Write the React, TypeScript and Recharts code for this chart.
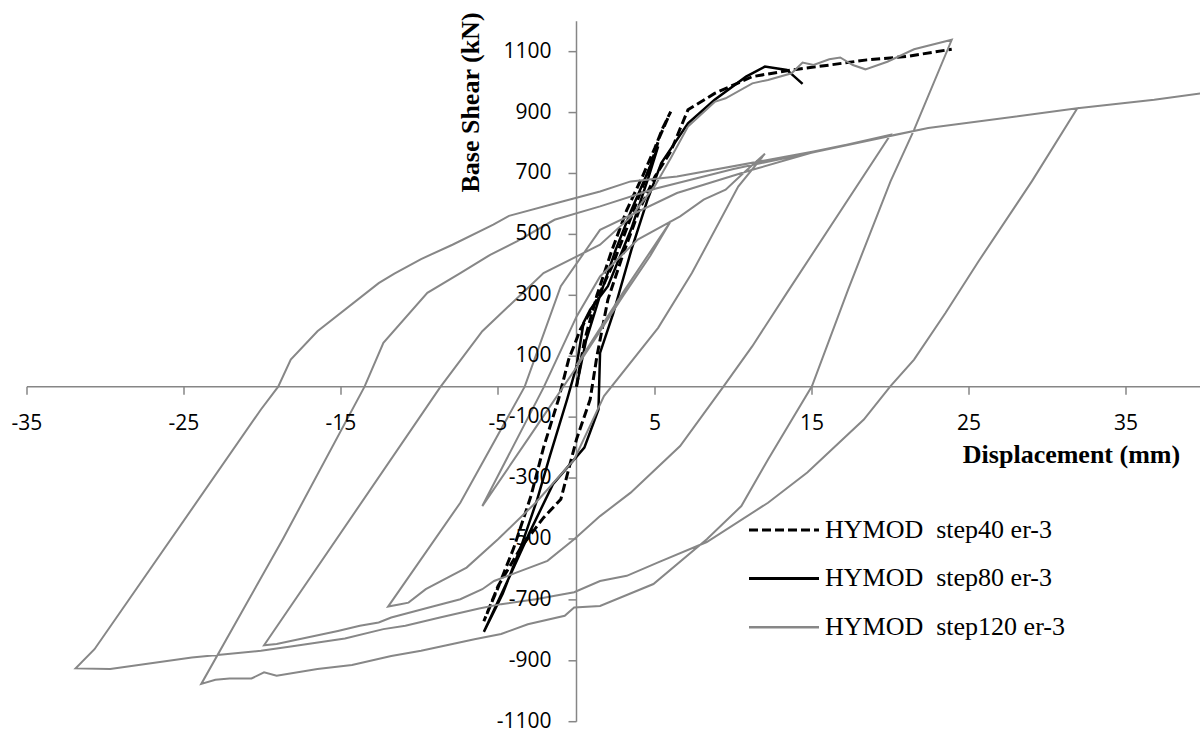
import React from 'react';
import { ComposedChart, Line, XAxis, YAxis, ReferenceLine, ReferenceDot } from 'recharts';

type Pt = [number, number];

// Displacement (mm) / base shear (kN) pairs, one array per branch of each run.
const step40Load: Pt[] = [[0, 0], [0.5, 150], [1.3, 300], [2.2, 440], [3.2, 580], [4.2, 690], [5.0, 785], [5.5, 850], [6.0, 903]];
const step40Unload: Pt[] = [[5.3, 821], [4.7, 723], [3.5, 560], [2.3, 400], [1.3, 286], [0.24, 187], [-0.5, 89], [-1.15, -42], [-2.1, -200], [-2.9, -359], [-4.0, -530], [-5.0, -660], [-5.9, -770]];
const step40Reload: Pt[] = [[-5.0, -655], [-3.5, -525], [-2.1, -430], [-1.0, -370], [0, -173], [0.87, -42], [1.3, 100], [2.0, 286], [3.0, 440], [4.0, 580], [5.0, 690], [6.0, 772], [7.1, 909], [8.8, 963], [11.2, 1018], [13.7, 1040], [16.1, 1056], [18.5, 1073], [21.0, 1084], [23.9, 1108]];

const step80Load: Pt[] = [[0, 0], [0.6, 150], [1.5, 300], [2.5, 450], [3.5, 580], [4.5, 700], [5.2, 789]];
const step80Unload: Pt[] = [[4.6, 690], [3.5, 520], [2.0, 330], [0.87, 253], [0.45, 210], [0, 67], [-0.6, -42], [-1.7, -228], [-2.5, -370], [-3.5, -520], [-4.7, -680], [-5.9, -805]];
const step80Reload: Pt[] = [[-4.5, -650], [-3.0, -480], [-1.5, -320], [0.5, -200], [1.4, -75], [1.5, 111], [2.35, 242], [3.5, 450], [4.5, 610], [5.4, 734], [7.1, 865], [8.8, 942], [10.8, 1018], [12.0, 1051], [13.4, 1040], [14.4, 994]];

const step120Cycle6: Pt[] = [[0, 70], [3, 312], [6, 543], [4.7, 430], [3, 300], [1.5, 182], [0, 64], [-3, -165], [-6, -392]];
const step120Reload12: Pt[] = [[-6, -392], [-2.1, -3], [0, 230], [1.5, 362], [3.9, 483], [6.6, 559], [8.1, 614], [9.5, 647], [10.5, 695], [12, 765]];
const step120Unload12: Pt[] = [[10.3, 657], [7.35, 373], [5.2, 193], [1.75, -31], [-0.15, -240], [-2.6, -381], [-5.0, -501], [-7.0, -594], [-9.6, -665], [-10.7, -709], [-11.3, -715], [-12, -722]];
const step120Reload20: Pt[] = [[-7.4, -381], [-3.3, 0], [-1.0, 330], [1.5, 515], [6.4, 636], [11.2, 712], [14.9, 767], [20, 827]];
const step120Unload20: Pt[] = [[13.4, 308], [11.2, 133], [9.3, -4], [6.6, -195], [3.45, -348], [1.5, -425], [-0.15, -501], [-1.85, -572], [-5.25, -638], [-6.0, -665], [-7.4, -698], [-9.4, -725], [-11.8, -758], [-12.6, -774], [-13.8, -785], [-15.2, -802], [-19.1, -845], [-19.9, -849]];
const step120Reload24: Pt[] = [[-8.7, -3], [-6.0, 182], [-2.1, 373], [1.5, 466], [3.5, 560], [5.0, 660], [6.0, 750], [7.1, 854], [8.8, 935], [9.5, 947], [11.2, 996], [12.2, 1007], [13.7, 1029], [14.4, 1064], [15.1, 1056], [16.1, 1075], [16.8, 1081], [17.6, 1056], [18.4, 1042], [19.8, 1067], [21.5, 1108], [23.9, 1139]];
const step120Unload24: Pt[] = [[21.5, 843], [20.0, 674], [17.3, 319], [15.0, 2], [12.2, -239], [10.5, -392], [8.3, -501], [4.9, -648], [1.5, -720], [-0.15, -725], [-0.75, -752], [-3.1, -780], [-4.8, -812], [-6.5, -829], [-7.9, -845], [-9.9, -867], [-11.8, -884], [-14.3, -914], [-16.5, -927], [-19.1, -949], [-19.9, -938], [-20.7, -958], [-22.1, -958], [-23.0, -962], [-23.9, -976]];
const step120Reload32: Pt[] = [[-13.5, 0], [-12.3, 144], [-9.5, 308], [-7.4, 373], [-5.5, 433], [-3.8, 477], [-1.4, 548], [1.5, 592], [5.0, 650], [10.0, 715], [15.1, 770], [22.4, 849], [31.9, 914]];
const step120Unload32: Pt[] = [[29.0, 674], [25.6, 411], [23.5, 242], [21.5, 89], [20.0, 2], [18.3, -108], [14.7, -282], [12.2, -381], [8.3, -510], [5.2, -577], [3.2, -621], [1.5, -638], [-0.15, -675], [-2.6, -698], [-4.8, -714], [-6.2, -728], [-8.7, -758], [-10.9, -785], [-12.3, -796], [-14.75, -827], [-18.2, -853], [-20.1, -867], [-24.5, -889], [-29.7, -927], [-31.9, -925]];
const step120Reload40: Pt[] = [[-30.7, -862], [-20.1, -75], [-19.0, 0], [-18.2, 89], [-16.5, 182], [-12.6, 340], [-11.6, 371], [-9.9, 419], [-7.9, 466], [-5.3, 532], [-4.3, 561], [-0.9, 608], [1.5, 641], [3.45, 674], [6.4, 690], [15.1, 772], [22.4, 849], [31.9, 914], [36.8, 942], [40, 965]];

const xTicks = [-35, -25, -15, -5, 5, 15, 25, 35];
const yTicks = [-1100, -900, -700, -500, -300, -100, 100, 300, 500, 700, 900, 1100];

const seriesNames = ['HYMOD  step40 er-3', 'HYMOD  step80 er-3', 'HYMOD  step120 er-3'];

type Row = { x: number; y: number | null };
const join = (...branches: Pt[][]): Row[] =>
  branches.flat().map(([x, y]) => ({ x, y }));

const step40 = join(step40Load, step40Unload, step40Reload);
const step80 = join(step80Load, step80Unload, step80Reload);
const step120 = join(
  step120Cycle6, step120Reload12, step120Unload12,
  [[-12, -722]], step120Reload20, step120Unload20,
  [[-19.9, -849]], step120Reload24, step120Unload24,
  [[-23.9, -976], [-18.7, -500]], step120Reload32, step120Unload32,
  step120Reload40
);

const AXIS = '#868686';
const GRAY = '#878787';
const tickFont = '"Open Sans", sans-serif';
const serif = '"Liberation Serif", "Times New Roman", serif';

const XTick = (props: any) => {
  const { cx, cy, label } = props;
  return (
    <g>
      <line x1={cx} y1={cy} x2={cx} y2={cy + 8} stroke={AXIS} strokeWidth={1.5} />
      <text x={cx} y={cy + 43} textAnchor="middle" fontFamily={tickFont} fontSize={21} fill="#000">{label}</text>
    </g>
  );
};

const YTick = (props: any) => {
  const { cx, cy, label } = props;
  return (
    <g>
      <line x1={cx - 8} y1={cy} x2={cx} y2={cy} stroke={AXIS} strokeWidth={1.5} />
      <text x={cx - 25} y={cy + 6} textAnchor="end" fontFamily={tickFont} fontSize={21} fill="#000">{label}</text>
    </g>
  );
};

export default function App() {
  return (
    <div style={{ position: 'absolute', left: 0, top: 0, width: 1200, height: 734, overflow: 'hidden', background: '#fff' }}>
      <ComposedChart width={1215} height={734} margin={{ top: 21.2, right: 10.5, bottom: 12.3, left: 27 }}>
        <XAxis type="number" dataKey="x" domain={[-35, 40]} hide allowDataOverflow />
        <YAxis type="number" dataKey="y" domain={[-1100, 1200]} hide allowDataOverflow />
        <ReferenceLine y={0} stroke={AXIS} strokeWidth={1.5} />
        <ReferenceLine x={0} stroke={AXIS} strokeWidth={1.5} />
        {xTicks.map((t) => (
          <ReferenceDot key={'x' + t} x={t} y={0} r={0} shape={(p: any) => <XTick {...p} label={t} />} />
        ))}
        {yTicks.map((t) => (
          <ReferenceDot key={'y' + t} x={0} y={t} r={0} shape={(p: any) => <YTick {...p} label={t} />} />
        ))}
        <Line data={step40} dataKey="y" type="linear" stroke="#000" strokeWidth={3} strokeDasharray="9 4" dot={false} isAnimationActive={false} connectNulls={false} />
        <Line data={step80} dataKey="y" type="linear" stroke="#000" strokeWidth={2.5} dot={false} isAnimationActive={false} connectNulls={false} />
        <Line data={step120} dataKey="y" type="linear" stroke={GRAY} strokeWidth={2} dot={false} isAnimationActive={false} connectNulls={false} />
      </ComposedChart>
      <svg width={1200} height={734} style={{ position: 'absolute', left: 0, top: 0, pointerEvents: 'none' }}>
        <text x={1071.5} y={463} textAnchor="middle" fontFamily={serif} fontWeight="bold" fontSize={26}>Displacement (mm)</text>
        <text transform="translate(479,102.5) rotate(-90)" textAnchor="middle" fontFamily={serif} fontWeight="bold" fontSize={26}>Base Shear (kN)</text>
        {seriesNames.map((name, i) => {
          const cy = 530 + i * 48.6;
          return (
            <g key={name}>
              <line x1={749} y1={cy} x2={819} y2={cy}
                stroke={i === 2 ? GRAY : '#000'} strokeWidth={i === 2 ? 2.5 : 3}
                strokeDasharray={i === 0 ? '9 4' : undefined} />
              <text x={825} y={cy + 7.5} fontFamily={serif} fontSize={26} style={{ whiteSpace: 'pre' }}>{name}</text>
            </g>
          );
        })}
      </svg>
    </div>
  );
}
